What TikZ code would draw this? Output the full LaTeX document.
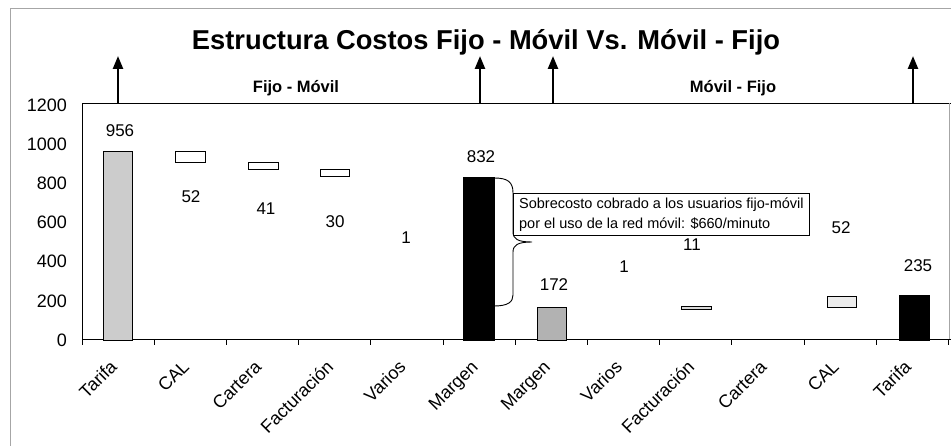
\documentclass[tikz,border=0pt]{standalone}
\usepackage{fontspec}
\setmainfont{Liberation Sans}
\usetikzlibrary{arrows.meta}
\begin{document}
\begin{tikzpicture}[x=1pt,y=-1pt,
  bar/.style={draw=black,line width=0.9pt},
  val/.style={font=\fontsize{17}{19}\selectfont, inner sep=0pt},
  ylab/.style={font=\fontsize{18}{20}\selectfont, anchor=east, inner sep=0pt},
  catlab/.style={font=\fontsize{18}{20}\selectfont, anchor=base east, rotate=45, inner sep=0pt},
  uparrow/.style={line width=2.4pt, -{Triangle[length=13pt,width=10pt]}},
  frame/.style={draw=gray!70, line width=0.8pt},
  ]
\useasboundingbox (0,0) rectangle (951,446);
% chart area border
\draw[frame] (10,446) -- (10,8) -- (951,8);
% plot area
\draw[line width=0.8pt] (82,340) -- (82,103) -- (951,103);
\draw[draw=gray!70, line width=0.8pt] (949,103) -- (949,340);
\draw[line width=1pt] (82,340) -- (951,340);
\foreach \i in {0,...,12} { \draw[line width=0.8pt] ({82+72.2*\i},340) -- ({82+72.2*\i},345); }
% y labels
\foreach \v [count=\k from 0] in {1200,1000,800,600,400,200,0}
  { \node[ylab] (y\v) at (67,{105+39.2*\k}) {\v}; }
% title
\node[font=\bfseries\fontsize{27.3}{30}\selectfont, inner sep=0pt] (title) at (486,42) {Estructura Costos Fijo - Móvil Vs. Móvil - Fijo};
\node[font=\bfseries\fontsize{16.5}{18}\selectfont, inner sep=0pt] (fm) at (296,88) {Fijo - Móvil};
\node[font=\bfseries\fontsize{16.5}{18}\selectfont, inner sep=0pt] (mf) at (733,88) {Móvil - Fijo};
% arrows
\foreach \n/\x in {a/118,b/480,c/553,d/913} {
  \coordinate (\n0) at (\x,104);
  \coordinate (\n1) at (\x,56);
  \draw[uparrow] (\n0) -- (\n1);
}
% bars (Fijo - Movil)
\draw[bar, fill=gray!40] (103,340) rectangle (132,151);
\draw[bar, fill=white] (175,151) rectangle (205,162);
\draw[bar, fill=white] (248,162) rectangle (278,169);
\draw[bar, fill=white] (320,169) rectangle (349,176);
\draw[bar, fill=black] (463,340) rectangle (494,177);
% bars (Movil - Fijo)
\draw[bar, fill=gray!60] (537,340) rectangle (566,307);
\draw[bar, fill=gray!30] (681,306) rectangle (711,309);
\draw[bar, fill=gray!15] (827,296) rectangle (856,307);
\draw[bar, fill=black] (899,340) rectangle (929,295);
% value labels
\node[val] (v1) at (120,131) {956};
\node[val] (v2) at (191,197) {52};
\node[val] (v3) at (266,209) {41};
\node[val] (v4) at (335,222) {30};
\node[val] (v5) at (406,238) {1};
\node[val] (v6) at (481,157) {832};
\node[val] (v7) at (554,285) {172};
\node[val] (v8) at (624,267) {1};
\node[val] (v9) at (692,245) {11};
\node[val] (v10) at (841,228) {52};
\node[val] (v11) at (918,266) {235};
% category labels
\foreach \t [count=\k from 0] in {Tarifa,CAL,Cartera,Facturación,Varios,Margen,Margen,Varios,Facturación,Cartera,CAL,Tarifa}
  { \node[catlab] (c\k) at ({82+72.2*(\k+0.5)},368) {\t}; }
% brace
\draw[line width=0.9pt] (494,178) .. controls (508,178) and (513,182) .. (513,193)
  -- (513,232) .. controls (513,239) and (518,242) .. (532,242)
  .. controls (518,242) and (513,245) .. (513,252)
  -- (513,295) .. controls (513,302) and (508,306) .. (494,306);
% callout
\node[draw, line width=0.8pt, fill=white, anchor=north west, inner xsep=4pt, inner ysep=4pt,
  minimum width=296pt, minimum height=42pt, align=left,
  font=\fontsize{14.5}{20}\selectfont] (note) at (513,193)
  {Sobrecosto cobrado a los usuarios fijo-móvil\\por el uso de la red móvil: \$660/minuto};
\end{tikzpicture}
\end{document}
